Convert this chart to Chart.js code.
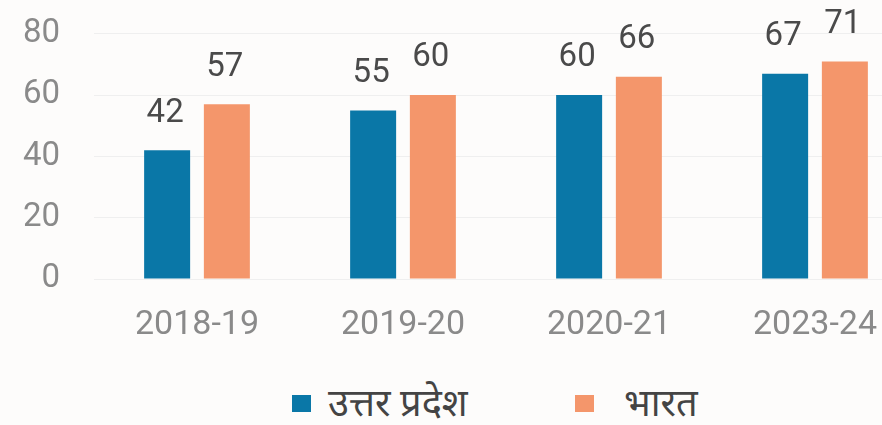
<!DOCTYPE html>
<html>
<head>
<meta charset="utf-8">
<script src="https://cdn.jsdelivr.net/npm/chart.js@4.4.1/dist/chart.umd.min.js"></script>
<style>
  html, body { margin: 0; padding: 0; background: #fdfcfb; overflow: hidden; }
  body { position: relative; width: 882px; height: 425px; }
  #wrap { position: absolute; left: 0; top: -20px; width: 918px; height: 369px; }
  #legend { position: absolute; left: 0; top: 381px; width: 882px; height: 45px;
            font-family: Roboto, 'Noto Sans', sans-serif; color: #444; }
  .item { position: absolute; top: 0; height: 45px; display: flex; align-items: center; }
  .sw { width: 19px; height: 17px; }
  .txt { font-size: 38px; line-height: 45px; }
</style>
</head>
<body>
<div id="wrap"><canvas id="chart"></canvas></div>
<div id="legend"></div>
<script>
// data
const years = ['2018-19', '2019-20', '2020-21', '2023-24'];
const upValues = [42, 55, 60, 67];
const indiaValues = [57, 60, 66, 71];
const seriesNames = ['उत्तर प्रदेश', 'भारत'];
const seriesColors = ['#0a77a7', '#f4966b'];
const yTicks = [0, 20, 40, 60, 80];

const fontFam = "Roboto, 'Noto Sans', 'DejaVu Sans', sans-serif";

// numbers above the bars
const barLabels = {
    id: 'barLabels',
    afterDatasetsDraw(chart) {
        const ctx = chart.ctx;
        ctx.save();
        ctx.font = '33px ' + fontFam;
        ctx.fillStyle = '#4a4a4a';
        ctx.textAlign = 'center';
        ctx.textBaseline = 'middle';
        chart.data.datasets.forEach((ds, i) => {
            chart.getDatasetMeta(i).data.forEach((bar, j) => {
                ctx.fillText(ds.data[j], bar.x - 2, bar.y - 37);
            });
        });
        ctx.restore();
    }
};

new Chart(document.getElementById('chart').getContext('2d'), {
    type: 'bar',
    data: {
        labels: years,
        datasets: [{
            label: seriesNames[0],
            data: upValues,
            backgroundColor: seriesColors[0]
        }, {
            label: seriesNames[1],
            data: indiaValues,
            backgroundColor: seriesColors[1]
        }]
    },
    options: {
        responsive: true,
        maintainAspectRatio: false,
        animation: false,
        categoryPercentage: 0.58,
        barPercentage: 0.77,
        layout: { padding: { top: 27, left: 0, right: 0, bottom: 0 } },
        scales: {
            x: {
                afterFit(axis) { axis.height = 70; },
                grid: { display: false },
                border: { display: false },
                ticks: { color: '#8a8a8a', font: { size: 34, family: fontFam }, padding: 18 }
            },
            y: {
                min: 0,
                max: 80,
                afterFit(axis) { axis.width = 94; },
                afterBuildTicks(axis) { axis.ticks = yTicks.map(v => ({ value: v })); },
                grid: { color: '#efefef', drawTicks: false },
                border: { display: false },
                ticks: { color: '#8a8a8a', font: { size: 33, family: fontFam }, padding: 34 }
            }
        },
        plugins: {
            legend: { display: false },
            tooltip: { enabled: false }
        }
    },
    plugins: [barLabels]
});

// legend under the chart
const legendLeft = [292, 575];
const legendGap = [17, 30];
const legend = document.getElementById('legend');
seriesNames.forEach((name, i) => {
    const item = document.createElement('div');
    item.className = 'item';
    item.style.left = legendLeft[i] + 'px';
    item.innerHTML = `<span class="sw" style="background:${seriesColors[i]};margin-right:${legendGap[i]}px"></span><span class="txt">${name}</span>`;
    legend.appendChild(item);
});
</script>
</body>
</html>
